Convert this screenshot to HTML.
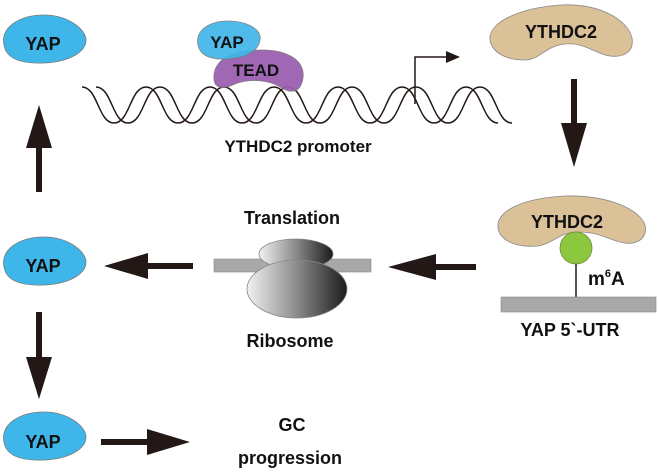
<!DOCTYPE html>
<html><head><meta charset="utf-8"><style>
html,body{margin:0;padding:0;background:#fff;}
svg{display:block;}
text{font-family:"Liberation Sans",Arial,sans-serif;font-weight:bold;fill:#111;}
</style></head><body>
<svg width="659" height="472" viewBox="0 0 659 472">
<defs>
<linearGradient id="rg" x1="0" x2="1" y1="0" y2="0">
<stop offset="0" stop-color="#f2f2f2"/><stop offset="0.5" stop-color="#8a8a8a"/><stop offset="1" stop-color="#1e1a1a"/>
</linearGradient>
<g id="yap">
<path d="M-40,5 C-44,-12 -25,-25 0,-25 C25,-25 42,-10 42,0 C42,12 25,22 0,23 C-25,24 -38,18 -40,5 Z" fill="#3fb6ea" stroke="#7a7a7a" stroke-width="0.8"/>
</g>
</defs>
<use href="#yap" x="44" y="40"/>
<text x="43" y="50" font-size="18" text-anchor="middle">YAP</text>
<use href="#yap" x="44" y="262"/>
<text x="43" y="272" font-size="18" text-anchor="middle">YAP</text>
<use href="#yap" x="44" y="437"/>
<text x="43" y="448" font-size="18" text-anchor="middle">YAP</text>
<g fill="#231815" stroke="none">
<rect x="36" y="145" width="6" height="47"/><polygon points="26,148 52,148 39,105"/>
<rect x="36" y="312" width="6" height="50"/><polygon points="26,357 52,357 39,399"/>
<rect x="145" y="263" width="48" height="6"/><polygon points="148,253 148,279 104,266"/>
<rect x="432" y="264" width="44" height="6"/><polygon points="436,254 436,280 388,267"/>
<rect x="101" y="439" width="50" height="6"/><polygon points="147,429 147,455 190,442"/>
<rect x="571" y="79" width="6" height="48"/><polygon points="561,123 587,123 574,167"/>
</g>
<path d="M82,87 C98,87 98,123 114,123 C130,123 130,87 146,87 C162,87 162,123 178,123 C194,123 194,87 210,87 C226,87 226,123 242,123 C258,123 258,87 274,87 C290,87 290,123 306,123 C322,123 322,87 338,87 C354,87 354,123 370,123 C386,123 386,87 402,87 C418,87 418,123 434,123 C450,123 450,87 466,87 C482,87 482,123 498,123" fill="none" stroke="#231815" stroke-width="1.5"/>
<path d="M96,87 C112,87 112,123 128,123 C144,123 144,87 160,87 C176,87 176,123 192,123 C208,123 208,87 224,87 C240,87 240,123 256,123 C272,123 272,87 288,87 C304,87 304,123 320,123 C336,123 336,87 352,87 C368,87 368,123 384,123 C400,123 400,87 416,87 C432,87 432,123 448,123 C464,123 464,87 480,87 C496,87 496,123 512,123" fill="none" stroke="#231815" stroke-width="1.5"/>
<path d="M415,104 L415,57 L448,57" fill="none" stroke="#231815" stroke-width="1.5"/>
<polygon points="446,51 460,57 446,63" fill="#231815"/>
<path d="M214,80 C212,58 235,50 262,50 C290,50 305,62 303,78 C301,92 292,94 282,88 C270,80 250,78 235,84 C222,90 215,88 214,80 Z" fill="#9b5fb0" stroke="#7a7a7a" stroke-width="0.8" opacity="0.95"/>
<path d="M198,45 C195,30 210,21 228,21 C248,21 262,30 260,40 C258,52 245,58 228,59 C210,60 200,55 198,45 Z" fill="#3fb6ea" stroke="#7a7a7a" stroke-width="0.8" opacity="0.92"/>
<text x="227" y="48" font-size="17" text-anchor="middle">YAP</text>
<text x="256" y="76" font-size="17" text-anchor="middle">TEAD</text>
<text x="298" y="152" font-size="17" text-anchor="middle">YTHDC2 promoter</text>
<path d="M490,40 C488,22 520,8 560,5 C600,3 628,20 632,38 C634,50 626,58 610,56 C595,54 585,42 565,44 C545,46 540,60 525,60 C505,60 492,52 490,40 Z" fill="#dbc197" stroke="#8a8a8a" stroke-width="0.8"/>
<text x="561" y="38" font-size="18" text-anchor="middle">YTHDC2</text>
<path d="M498,228 C496,210 525,198 565,196 C610,195 640,210 645,225 C648,240 635,246 620,242 C605,238 598,232 578,232 C560,232 552,244 538,246 C515,248 500,240 498,228 Z" fill="#dbc197" stroke="#8a8a8a" stroke-width="0.8"/>
<text x="567" y="228" font-size="18" text-anchor="middle">YTHDC2</text>
<line x1="576" y1="262" x2="576" y2="297" stroke="#231815" stroke-width="1.5"/>
<circle cx="576" cy="248" r="16" fill="#8dc63f" stroke="#6a8a3a" stroke-width="0.8"/>
<rect x="501" y="297" width="155" height="15" fill="#a8a8a8" stroke="#888" stroke-width="0.6"/>
<text x="588" y="285" font-size="19">m<tspan font-size="11" dy="-8">6</tspan><tspan dy="8">A</tspan></text>
<text x="570" y="336" font-size="18" text-anchor="middle">YAP 5`-UTR</text>
<rect x="214" y="259" width="157" height="13" fill="#a8a8a8" stroke="#888" stroke-width="0.6"/>
<ellipse cx="296" cy="254" rx="37" ry="15" fill="url(#rg)" stroke="#888" stroke-width="0.8"/>
<ellipse cx="297" cy="289" rx="50" ry="29" fill="url(#rg)" stroke="#888" stroke-width="0.8"/>
<text x="292" y="224" font-size="18" text-anchor="middle">Translation</text>
<text x="290" y="347" font-size="18" text-anchor="middle">Ribosome</text>
<text x="292" y="431" font-size="18" text-anchor="middle">GC</text>
<text x="290" y="464" font-size="18" text-anchor="middle">progression</text>
</svg>
</body></html>
